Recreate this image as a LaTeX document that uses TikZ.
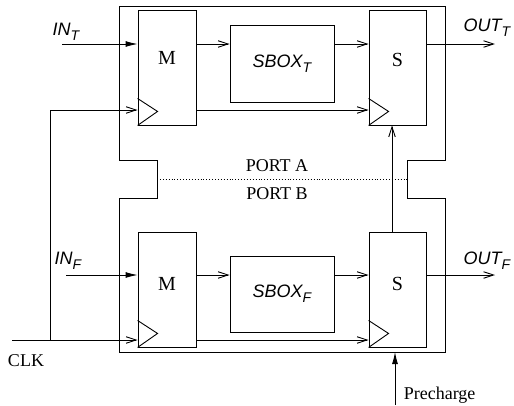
\documentclass[tikz,border=0pt]{standalone}
\usepackage{fontspec}
\setmainfont{Liberation Serif}
\newfontfamily\sigfont{Liberation Sans}
\usetikzlibrary{arrows.meta,positioning}
\tikzset{>={Straight Barb[length=10pt,width=6.5pt]}}
\tikzset{every node/.style={font=\fontsize{18}{21}\selectfont},
  block/.style={draw, rectangle, inner sep=0pt},
  blocklabel/.style={font=\fontsize{20}{23}\selectfont},
  fill arrow/.style={-{Latex[length=12pt,width=6pt]}},
  sig/.style={font=\sigfont\itshape\fontsize{18}{21}\selectfont}}
\newcommand{\lowsub}[1]{\raisebox{-5pt}{\fontsize{14}{14}\selectfont #1}}

\begin{document}
\begin{tikzpicture}[x=1pt,y=-1pt,line width=0.9pt]
          \useasboundingbox (0,0) rectangle (514,405);
          % outer frame with the port notches
          \draw (119,6) -- (445,6) -- (445,160) -- (407,160) -- (407,198)
            -- (445,198) -- (445,352) -- (119,352) -- (119,198) -- (157,198)
            -- (157,160) -- (119,160) -- cycle;
          % true half
          \node[block, minimum width=58pt, minimum height=115pt] (mT) at (167,67.5) {};
          \node[block, minimum width=104pt, minimum height=77pt] (sboxT) at (282,63.5) {};
          \node[block, minimum width=57pt, minimum height=115pt] (sT) at (397.5,67.5) {};
          % false half
          \node[block, minimum width=58pt, minimum height=115pt] (mF) at (167,289.5) {};
          \node[block, minimum width=104pt, minimum height=76pt] (sboxF) at (282,294) {};
          \node[block, minimum width=57pt, minimum height=115pt] (sF) at (397.5,289.5) {};
          \node[blocklabel] at ([yshift=10pt]mT.center) {M};
          \node[blocklabel] at ([yshift=8pt]sT.center) {S};
          \node[blocklabel] at ([yshift=6pt]mF.center) {M};
          \node[blocklabel] at ([yshift=6pt]sF.center) {S};
          \node[sig] at (sboxT.center) {SBOX\lowsub{T}};
          \node[sig] at (sboxF.center) {SBOX\lowsub{F}};
          % clock inputs
          \foreach \b in {mT,sT,mF,sF}
            \draw (\b.south west) ++(0,-27) -- ++(20,13) -- (\b.south west);
          % signals
          \coordinate (inT) at (62,44);
          \coordinate (outT) at (495,44);
          \coordinate (inF) at (66,275);
          \coordinate (outF) at (495,275);
          \coordinate (clkT) at (50,110);
          \coordinate (clk) at (12,340);
          \coordinate (pre) at (395,405);
          \coordinate (frameS) at (282,352);
          \draw[fill arrow] (inT) -- (inT -| mT.west);
          \draw[->] (inT -| mT.east) -- (inT -| sboxT.west);
          \draw[->] (inT -| sboxT.east) -- (inT -| sT.west);
          \draw[->] (inT -| sT.east) -- (outT);
          \draw[fill arrow] (inF) -- (inF -| mF.west);
          \draw[->] (inF -| mF.east) -- (inF -| sboxF.west);
          \draw[->] (inF -| sboxF.east) -- (inF -| sF.west);
          \draw[->] (inF -| sF.east) -- (outF);
          \draw[->] (clk -| clkT) -- (clkT) -- (clkT -| mT.west);
          \draw[->] (clk) -- (clk -| mF.west);
          \draw[->] (clkT -| mT.east) -- (clkT -| sT.west);
          \draw[->] (clk -| mF.east) -- (clk -| sF.west);
          \draw[->] ([xshift=-5.5pt]sF.north) -- ([xshift=-5.5pt]sT.south);
          \draw[fill arrow] (pre) -- (pre |- frameS);
          % ports
          \draw[dotted] (157,179) -- (407,179);
          \node (portA) at (277,166) {PORT A};
          \node (portB) at (277,194) {PORT B};
          % labels
          \node[sig] (labInT) at (66,32) {IN\lowsub{T}};
          \node[sig] (labInF) at (68,261) {IN\lowsub{F}};
          \node[sig] (labOutT) at (487,28) {OUT\lowsub{T}};
          \node[sig] (labOutF) at (487,261) {OUT\lowsub{F}};
          \node (labClk) at (26,361) {CLK};
          \node[anchor=west] (labPre) at (400,395) {Precharge};
        \end{tikzpicture}
\end{document}
